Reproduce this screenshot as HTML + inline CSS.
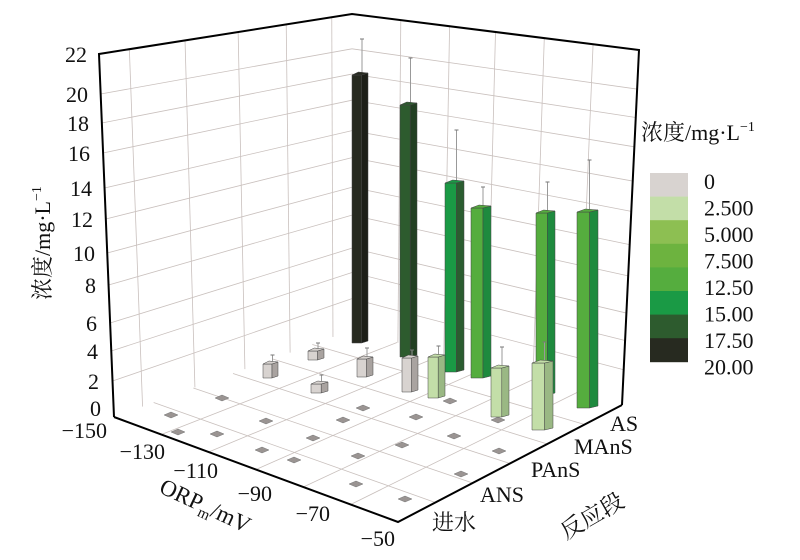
<!DOCTYPE html>
<html><head><meta charset="utf-8"><style>
body{margin:0;background:#fff;}
svg{display:block;font-family:"Liberation Serif","Noto Serif CJK SC",serif;}
</style></head><body>
<svg id="s" width="800" height="560" viewBox="0 0 800 560" xmlns="http://www.w3.org/2000/svg">
<g id="grid" stroke="#c9c0bd" stroke-width="0.8" fill="none"></g>
<g stroke="#000" stroke-width="2" fill="none">
<polyline points="114,417 99,54 352,14 639,50 622,405"/>
<polyline points="114,417 398,522 622,405"/>
</g>
<g id="bars"></g>
<g font-size="22" fill="#111" text-anchor="end">
<text x="87" y="62">22</text><text x="88" y="102">20</text><text x="89" y="131">18</text><text x="90" y="161">16</text>
<text x="92" y="196">14</text><text x="93" y="227">12</text><text x="95" y="261">10</text><text x="96" y="293">8</text>
<text x="97" y="331">6</text><text x="98" y="359">4</text><text x="99" y="389">2</text><text x="101" y="416">0</text>
<text x="107" y="438">−150</text><text x="165" y="459">−130</text><text x="218" y="478">−110</text>
<text x="272" y="501">−90</text><text x="330" y="521">−70</text><text x="395" y="546">−50</text>
</g>
<g font-size="22" fill="#111">
<text x="432" y="530">进水</text><text x="480" y="502">ANS</text><text x="531" y="477">PAnS</text>
<text x="574" y="454">MAnS</text><text x="610" y="431">AS</text>
<text transform="translate(566,540) rotate(-30)" font-size="23">反应段</text>
<text transform="translate(158,492) rotate(25)" font-size="23">ORP<tspan font-size="15" dy="5">m</tspan><tspan dy="-5">/mV</tspan></text>
<text transform="translate(50,300) rotate(-90)" font-size="22">浓度/mg·L<tspan font-size="14" dy="-9">−1</tspan></text>
<text x="641" y="140" font-size="22">浓度/mg·L<tspan font-size="14" dy="-9">−1</tspan></text>
</g>
<g id="leg"></g>
</svg>
<script>
var NS="http://www.w3.org/2000/svg";
function el(p,t,a){var e=document.createElementNS(NS,t);for(var k in a)e.setAttribute(k,a[k]);p.appendChild(e);return e;}
function L(p,q,t){return [p[0]+(q[0]-p[0])*t,p[1]+(q[1]-p[1])*t];}
var g=document.getElementById('grid');
function line(a,b){el(g,'line',{x1:a[0],y1:a[1],x2:b[0],y2:b[1]});}
var A=[99,54],B=[352,14],C=[352,330],D=[114,417],E=[639,50],F=[622,405],G=[398,522];
var zy=[413,381,351,323,285,253,219,188,153,123,94,54];
for(var i=1;i<zy.length-1;i++){var t=(417-zy[i])/(417-54);line(L(D,A,t),L(C,B,t));}
[0.12,0.34,0.55,0.74,0.92].forEach(function(t){line(L(A,B,t),L(D,C,t));});
for(var i=1;i<zy.length-1;i++){var t=(417-zy[i])/(417-54);line(L(C,B,t),L(F,E,t));}
[0.17,0.34,0.5,0.67,0.84].forEach(function(t){line(L(B,E,t),L(C,F,t));});
[1/6,2/6,3/6,4/6,5/6].forEach(function(t){line(L(D,G,t),L(C,F,t));line(L(C,D,t),L(F,G,t));});
var b=document.getElementById('bars');
function bar(x1,x2,top,bot,col,side,err){
 var w=x2-x1;
 if(err)el(b,'line',{x1:x1+w/2+2,y1:err,x2:x1+w/2+2,y2:top,stroke:'#999','stroke-width':1}),el(b,'line',{x1:x1+w/2,y1:err,x2:x1+w/2+4,y2:err,stroke:'#777','stroke-width':1});
 el(b,'polygon',{points:[x1,top,x1+w*0.6,top,x1+w*0.6,bot,x1,bot].join(' '),fill:col,stroke:'#444','stroke-width':0.5});
 el(b,'polygon',{points:[x1+w*0.6,top,x2,top-2,x2,bot-2,x1+w*0.6,bot].join(' '),fill:side,stroke:'#444','stroke-width':0.5});
 el(b,'polygon',{points:[x1,top,x1+w*0.4,top-3,x2,top-2,x1+w*0.6,top].join(' '),fill:col,stroke:'#444','stroke-width':0.5});
}
var gr='#d8d3d0',gs='#a9a3a0';
[[171,415],[222,398],[178,432],[217,434],[262,450],[266,421],[294,460],[313,438],[343,420],[356,484],[363,408],[358,456],[405,499],[402,445],[416,417],[454,436],[461,474],[499,451],[498,420],[450,401]].forEach(function(p){el(b,'polygon',{points:[p[0]-7,p[1],p[0],p[1]-3,p[0]+7,p[1],p[0],p[1]+3].join(' '),fill:'#9a9492',stroke:'#777','stroke-width':0.5});});
bar(263,278,364,378,gr,gs,355);
bar(308,324,351,360,gr,gs,343);
bar(352,368,75,343,'#272a20','#1d1f18',39);
bar(311,328,384,393,gr,gs,375);
bar(357,373,359,377,gr,gs,348);
bar(400,417,105,357,'#2d5b2e','#223f22',58);
bar(445,464,183,372,'#1a9a45','#2b5d30',130);
bar(402,418,358,392,gr,gs,350);
bar(471,491,208,378,'#55ad3e','#1e8a3e',187);
bar(428,445,357,398,'#c3dea8','#9ab884',346);
bar(536,555,213,395,'#55ad3e','#1e8a3e',182);
bar(577,598,212,408,'#55ad3e','#1e8a3e',160);
bar(491,509,368,417,'#c3dea8','#9ab884',347);
bar(532,553,363,430,'#c3dea8','#9ab884',342);
var lg=document.getElementById('leg');
var cols=['#d8d3d0','#c3dea8','#8dbf52','#6db33f','#55ad3e','#1a9a45','#2d5b2e','#272a20'];
var labs=['0','2.500','5.000','7.500','12.50','15.00','17.50','20.00'];
cols.forEach(function(c,i){el(lg,'rect',{x:650,y:173+i*23.6,width:38,height:24,fill:c});
 var t=el(lg,'text',{x:704,y:189+i*26.5,'font-size':22,fill:'#111'});t.textContent=labs[i];});
</script>
</body></html>
